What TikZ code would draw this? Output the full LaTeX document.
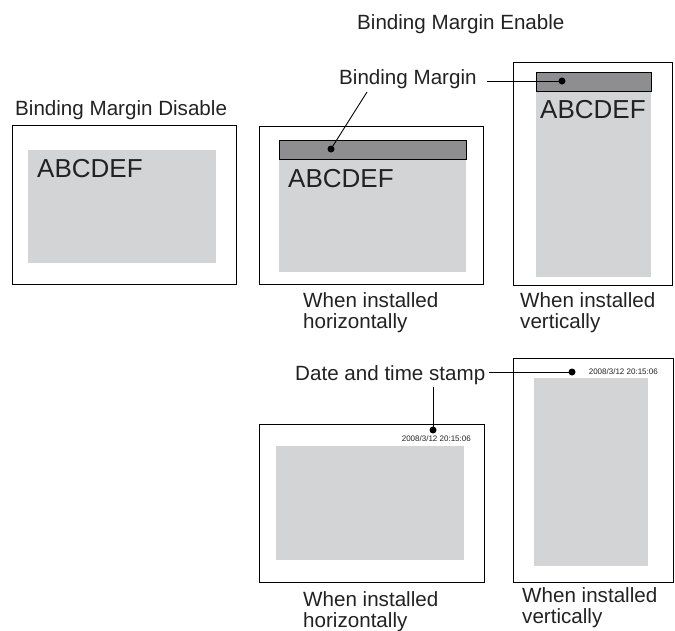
\documentclass[tikz,border=0pt]{standalone}
\usepackage{fontspec}
\setmainfont{Liberation Sans}
\definecolor{paper}{RGB}{211,212,214}
\definecolor{margin}{RGB}{142,142,144}
\definecolor{ink}{RGB}{34,34,34}
\tikzset{
  sheet/.style={draw=black,line width=1pt},
  printarea/.style={fill=paper},
  bindbar/.style={draw=black,fill=margin,line width=0.8pt},
  lbl/.style={font=\fontsize{20.6}{21.5}\selectfont,text=ink,inner sep=0pt},
  capt/.style={lbl,align=left,anchor=north west},
  stamp/.style={font=\fontsize{8}{9}\selectfont,text=ink,inner sep=0pt},
  letters/.style={font=\fontsize{26}{27}\selectfont,text=ink,inner sep=0pt,anchor=base west},
  leader/.style={line width=0.9pt},
  pin/.style={circle,fill=black,inner sep=0pt,minimum size=7pt}
}
\begin{document}
\begin{tikzpicture}[x=1pt,y=-1pt]
  \useasboundingbox (0,0) rectangle (675,630);
  \node[lbl,anchor=base west] (offlabel) at (15,115) {Binding Margin Disable};
  \node[lbl,anchor=base west] (onlabel) at (357,29) {Binding Margin Enable};
  \draw[sheet] (12,125) rectangle (236,284);
  \fill[printarea] (28,150) rectangle (216,263);
  \node[letters] (offtext) at (37,177) {ABCDEF};
  \draw[sheet] (259,126) rectangle (483,284);
  \fill[printarea] (279,159) rectangle (466,272);
  \draw[bindbar] (279,140) rectangle (466,159);
  \node[letters] (horztext) at (288,187) {ABCDEF};
  \node[capt] (horzcap) at (303,292) {When installed\\horizontally};
  \draw[sheet] (513,62) rectangle (672,285);
  \fill[printarea] (536,91) rectangle (651,277);
  \draw[bindbar] (536,72) rectangle (651,91);
  \node[letters] (verttext) at (540,118) {ABCDEF};
  \node[capt] (vertcap) at (520,292) {When installed\\vertically};
  \node[lbl,anchor=base west] (marginlabel) at (339,84) {Binding Margin};
  \node[pin] (horzdot) at (331,149) {};
  \node[pin] (vertdot) at (562,81) {};
  \coordinate (marginfoot) at (367,92);
  \coordinate (marginend) at (487,81);
  \draw[leader] (marginfoot) -- (horzdot.center);
  \draw[leader] (marginend) -- (vertdot.center);
  \draw[sheet] (259,424) rectangle (484,582);
  \fill[printarea] (276,446) rectangle (464,560);
  \node[stamp,anchor=east] (horzstamp) at (471,439) {2008/3/12 20:15:06};
  \node[capt] (horzcap2) at (303,591) {When installed\\horizontally};
  \draw[sheet] (513,358) rectangle (673,582);
  \fill[printarea] (534,378) rectangle (648,566);
  \node[stamp,anchor=east] (vertstamp) at (658,372) {2008/3/12 20:15:06};
  \node[capt] (vertcap2) at (522,587) {When installed\\vertically};
  \node[lbl,anchor=base west] (stamplabel) at (295,380) {Date and time stamp};
  \node[pin] (hstampdot) at (433,430) {};
  \node[pin] (vstampdot) at (572,372) {};
  \coordinate (stampfoot) at (433,387);
  \coordinate (stampend) at (489,372);
  \draw[leader] (stampfoot) -- (hstampdot.center);
  \draw[leader] (stampend) -- (vstampdot.center);
\end{tikzpicture}
\end{document}
